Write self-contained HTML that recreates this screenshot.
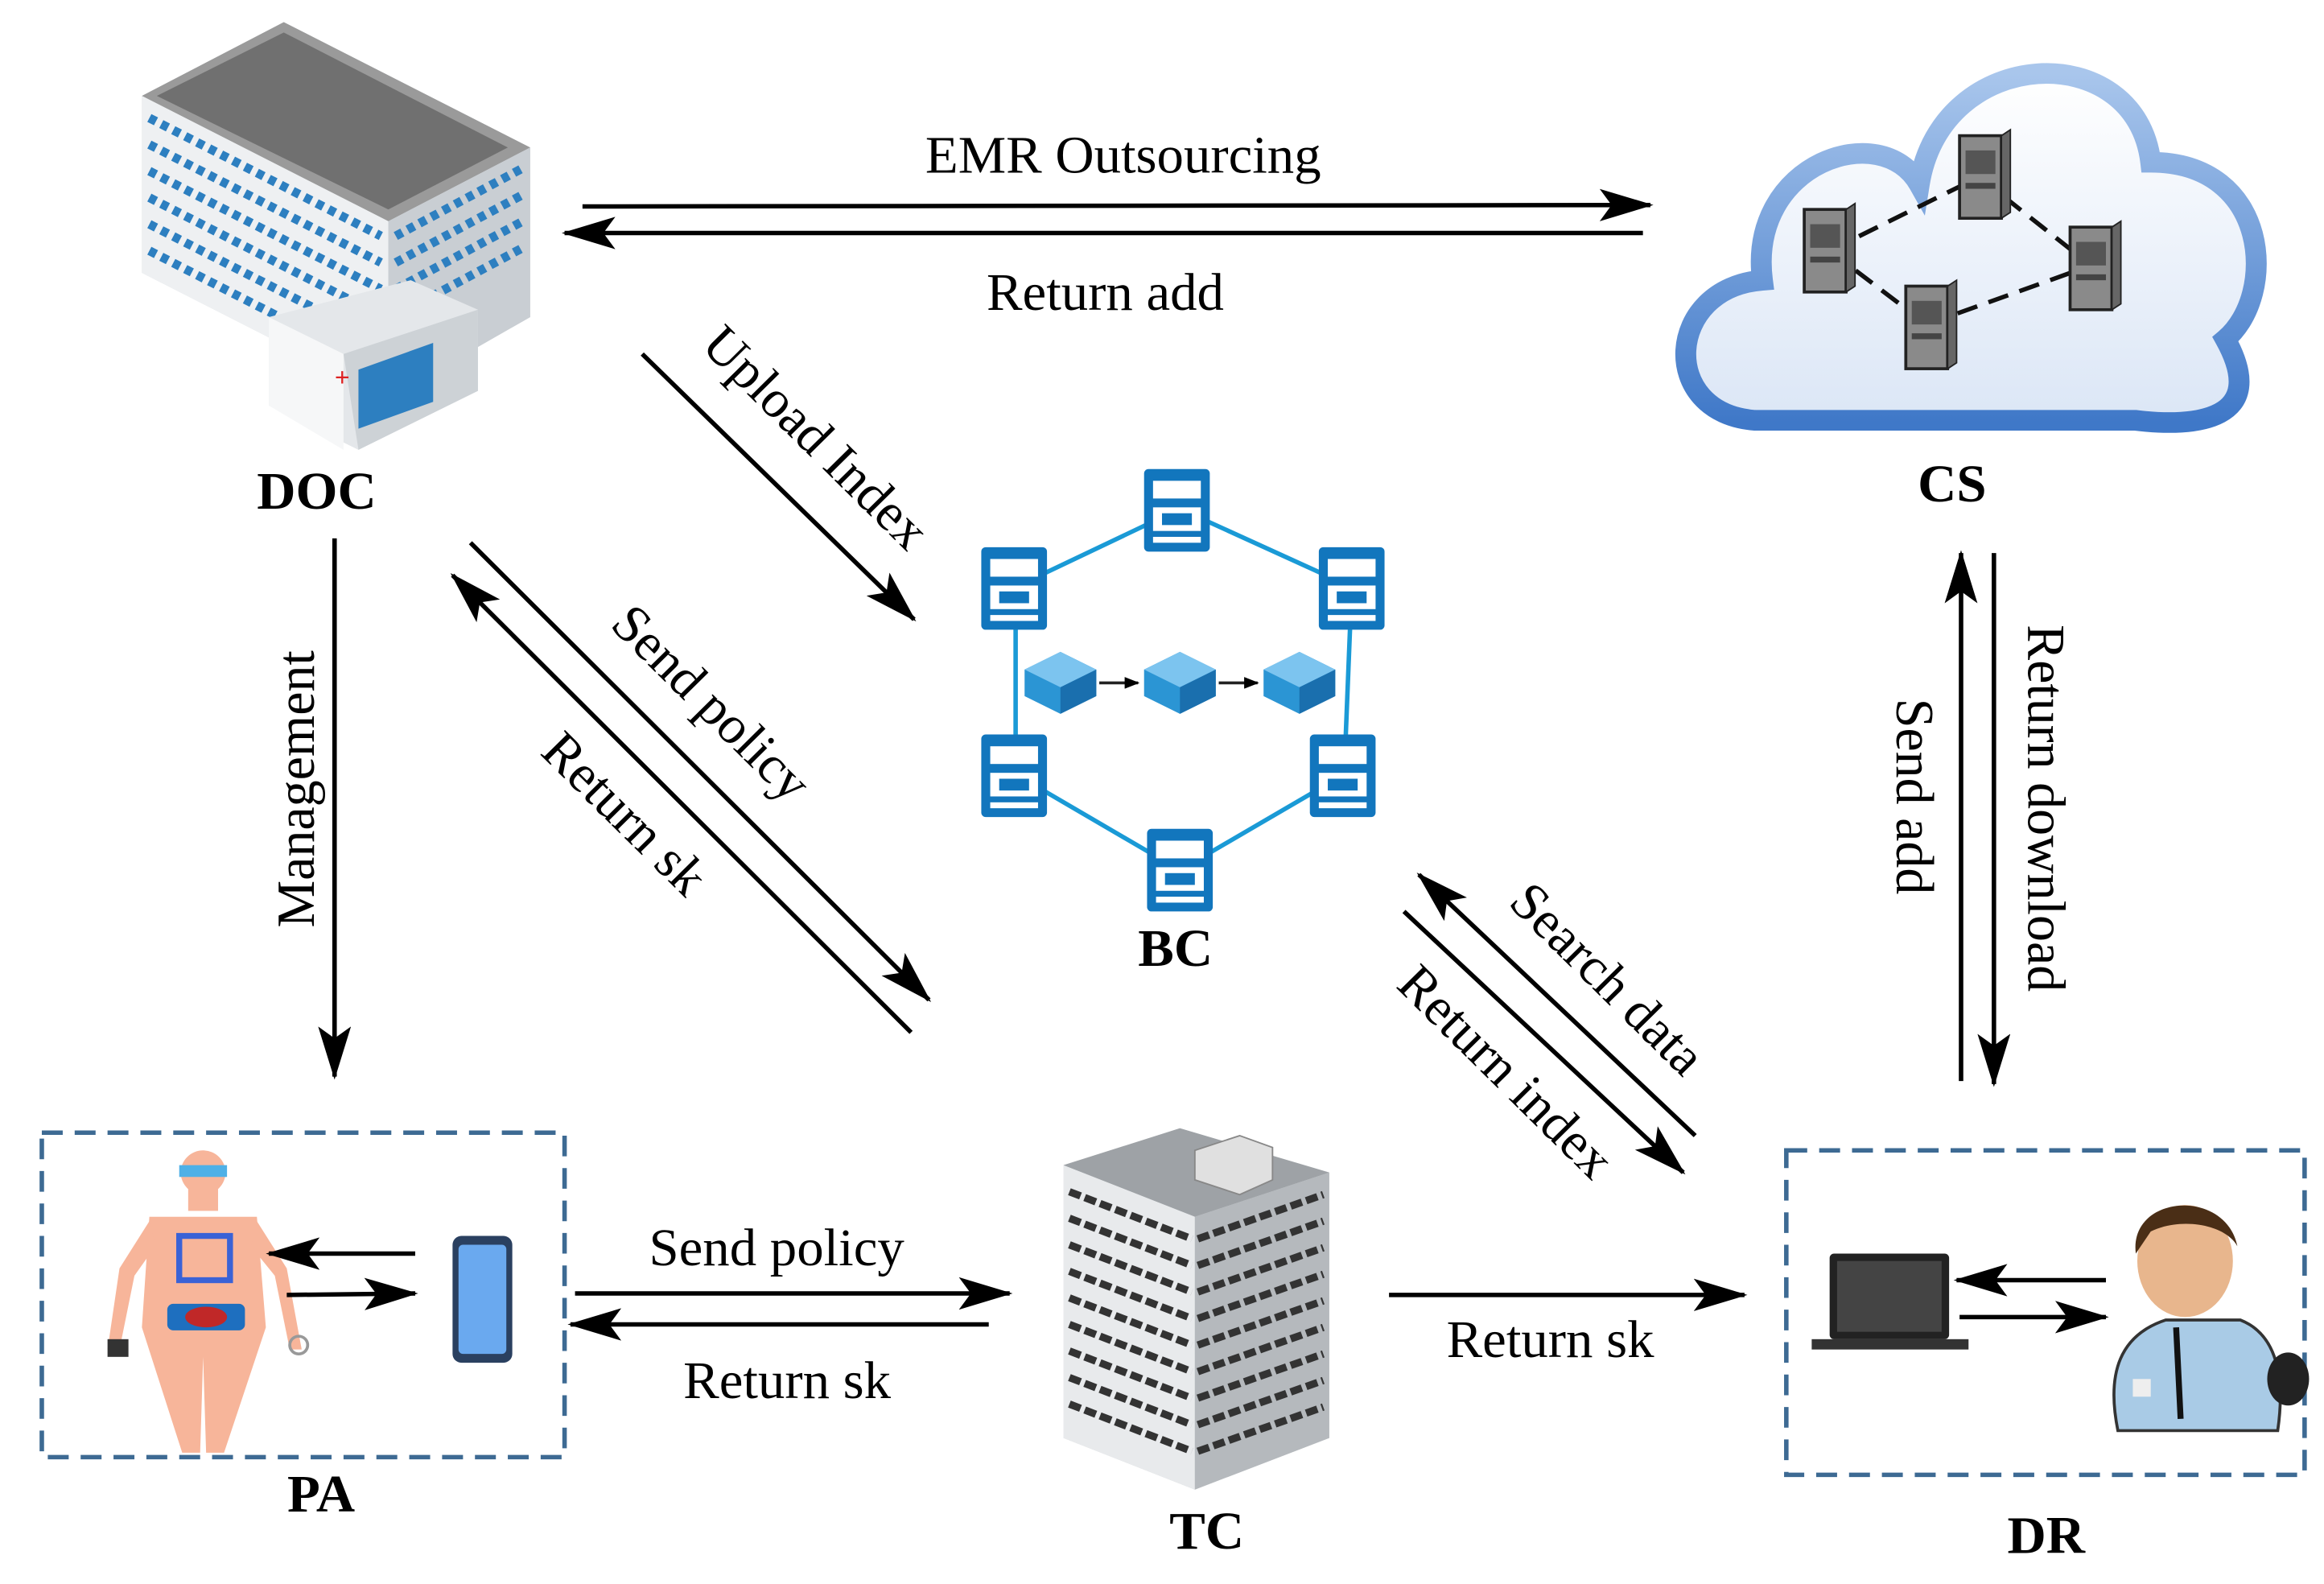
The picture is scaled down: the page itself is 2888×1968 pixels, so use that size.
<!DOCTYPE html>
<html><head><meta charset="utf-8"><style>html,body{margin:0;padding:0;background:#fff}svg{display:block}</style></head>
<body>
<svg width="2888" height="1968" viewBox="0 0 1556 1074" preserveAspectRatio="none" xmlns="http://www.w3.org/2000/svg" font-family="Liberation Serif, serif">
<defs>
<marker id="ah" markerWidth="10" markerHeight="8" refX="9" refY="4" orient="auto" markerUnits="userSpaceOnUse" viewBox="0 0 10 8"><path d="M0,0 L10,4 L0,8 z" fill="#000"/></marker>
<marker id="a" markerWidth="36" markerHeight="22" refX="34" refY="11" orient="auto" markerUnits="userSpaceOnUse"><path d="M0,0 L36,11 L0,22 L8,11 z" fill="#000"/></marker>
<linearGradient id="cl" x1="0" y1="0" x2="0" y2="1"><stop offset="0" stop-color="#fff"/><stop offset="1" stop-color="#dbe6f6"/></linearGradient>
<linearGradient id="cb" x1="0" y1="0" x2="0" y2="1"><stop offset="0" stop-color="#a9c6ec"/><stop offset="1" stop-color="#3f78c8"/></linearGradient>
<g id="srv"><rect x="-14" y="-28" width="28" height="56" fill="#8a8a8a" stroke="#222" stroke-width="2"/><rect x="-10" y="-18" width="20" height="16" fill="#555"/><rect x="-10" y="4" width="20" height="4" fill="#444"/><polygon points="14,-28 20,-32 20,24 14,28" fill="#666" stroke="#222"/></g>
<g id="bn"><rect x="-22" y="-28" width="44" height="56" rx="3" fill="#1276bd"/><rect x="-16" y="-20" width="32" height="12" fill="#fff"/><rect x="-16" y="-2" width="32" height="16" fill="#fff"/><rect x="-10" y="2" width="20" height="8" fill="#1276bd"/><rect x="-16" y="18" width="32" height="4" fill="#fff"/></g>
<g id="cube"><polygon points="0,-20 24,-8 24,10 0,22 -24,10 -24,-8" fill="#2b95d4"/><polygon points="0,-20 24,-8 0,4 -24,-8" fill="#7cc4ef"/><polygon points="0,4 24,-8 24,10 0,22" fill="#1a6fae"/></g>
</defs>

<!-- DOC building -->
<g>
<polygon points="95,65 190,15 355,100 355,215 260,270 95,185" fill="#d8dce0"/>
<polygon points="95,65 190,15 355,100 260,150" fill="#9a9a9a"/>
<polygon points="105,65 190,22 340,100 260,142" fill="#707070"/>
<polygon points="95,65 260,150 260,270 95,185" fill="#eef0f2"/>
<polygon points="260,150 355,100 355,215 260,270" fill="#c9ced3"/>
<g stroke="#2d7fc0" stroke-width="6" stroke-dasharray="5,4">
<line x1="100" y1="80" x2="255" y2="160"/><line x1="100" y1="98" x2="255" y2="178"/><line x1="100" y1="116" x2="255" y2="196"/><line x1="100" y1="134" x2="255" y2="214"/><line x1="100" y1="152" x2="255" y2="232"/><line x1="100" y1="170" x2="255" y2="250"/>
<line x1="265" y1="160" x2="350" y2="114"/><line x1="265" y1="178" x2="350" y2="132"/><line x1="265" y1="196" x2="350" y2="150"/><line x1="265" y1="214" x2="350" y2="168"/>
</g>
<polygon points="180,215 275,190 320,210 320,265 240,305 180,275" fill="#e4e7ea"/>
<polygon points="180,215 230,240 230,305 180,275" fill="#f6f7f8"/>
<polygon points="230,240 320,210 320,265 240,305" fill="#cdd2d6"/>
<rect x="240" y="248" width="50" height="40" fill="#2d7fc0" transform="skewY(-20) translate(0,90)"/>
<text x="224" y="262" fill="#d22" font-size="18" font-weight="bold">+</text>
</g>
<text x="212" y="345" font-size="36" font-weight="bold" text-anchor="middle">DOC</text>

<!-- EMR arrows -->
<line x1="390" y1="140" x2="1105" y2="139" stroke="#000" stroke-width="3" marker-end="url(#a)"/>
<line x1="1100" y1="158" x2="378" y2="158" stroke="#000" stroke-width="3" marker-end="url(#a)"/>
<text x="752" y="117" font-size="36" text-anchor="middle">EMR Outsourcing</text>
<text x="740" y="210" font-size="36" text-anchor="middle">Return add</text>

<!-- Cloud -->
<path d="M1175,285 C1110,280 1115,195 1180,190 C1170,110 1260,80 1285,125 C1300,30 1430,25 1440,110 C1520,110 1525,200 1490,230 C1520,285 1470,290 1430,285 Z" fill="url(#cl)" stroke="url(#cb)" stroke-width="14"/>
<g stroke="#111" stroke-width="3" stroke-dasharray="14,8">
<line x1="1225" y1="170" x2="1325" y2="120"/><line x1="1325" y1="120" x2="1400" y2="180"/><line x1="1225" y1="170" x2="1290" y2="220"/><line x1="1290" y1="220" x2="1400" y2="180"/>
</g>
<use href="#srv" x="1222" y="170"/><use href="#srv" x="1326" y="120"/><use href="#srv" x="1400" y="182"/><use href="#srv" x="1290" y="222"/>
<text x="1307" y="340" font-size="36" font-weight="bold" text-anchor="middle">CS</text>

<!-- Upload index -->
<line x1="430" y1="240" x2="612" y2="420" stroke="#000" stroke-width="3" marker-end="url(#a)"/>
<text transform="translate(538,305) rotate(45)" font-size="36" text-anchor="middle">Upload Index</text>

<!-- BC -->
<g stroke="#1a9ad6" stroke-width="3" fill="none">
<line x1="790" y1="345" x2="905" y2="398"/><line x1="790" y1="345" x2="680" y2="398"/><line x1="680" y1="398" x2="680" y2="525"/><line x1="905" y1="398" x2="900" y2="525"/><line x1="680" y1="525" x2="790" y2="590"/><line x1="900" y1="525" x2="790" y2="590"/>
</g>
<use href="#bn" x="788" y="346"/><use href="#bn" x="905" y="399"/><use href="#bn" x="679" y="399"/><use href="#bn" x="679" y="526"/><use href="#bn" x="899" y="526"/><use href="#bn" x="790" y="590"/>
<use href="#cube" x="710" y="462"/><use href="#cube" x="790" y="462"/><use href="#cube" x="870" y="462"/>
<line x1="736" y1="463" x2="762" y2="463" stroke="#222" stroke-width="2" marker-end="url(#ah)"/>
<line x1="816" y1="463" x2="842" y2="463" stroke="#222" stroke-width="2" marker-end="url(#ah)"/>
<text x="787" y="655" font-size="36" font-weight="bold" text-anchor="middle">BC</text>

<!-- Management -->
<line x1="224" y1="365" x2="224" y2="730" stroke="#000" stroke-width="3" marker-end="url(#a)"/>
<text transform="translate(210,535) rotate(-90)" font-size="36" text-anchor="middle">Management</text>

<!-- Send policy / return sk diagonal -->
<line x1="315" y1="368" x2="622" y2="678" stroke="#000" stroke-width="3" marker-end="url(#a)"/>
<line x1="610" y1="700" x2="303" y2="390" stroke="#000" stroke-width="3" marker-end="url(#a)"/>
<text transform="translate(468,485) rotate(45)" font-size="36" text-anchor="middle">Send policy</text>
<text transform="translate(410,560) rotate(45)" font-size="36" text-anchor="middle">Return sk</text>

<!-- Search data / Return index -->
<line x1="1135" y1="770" x2="950" y2="593" stroke="#000" stroke-width="3" marker-end="url(#a)"/>
<line x1="940" y1="618" x2="1127" y2="795" stroke="#000" stroke-width="3" marker-end="url(#a)"/>
<text transform="translate(1068,672) rotate(45)" font-size="36" text-anchor="middle">Search data</text>
<text transform="translate(1000,735) rotate(45)" font-size="36" text-anchor="middle">Return index</text>

<!-- CS vertical -->
<line x1="1313" y1="733" x2="1313" y2="375" stroke="#000" stroke-width="3" marker-end="url(#a)"/>
<line x1="1335" y1="375" x2="1335" y2="735" stroke="#000" stroke-width="3" marker-end="url(#a)"/>
<text transform="translate(1270,540) rotate(90)" font-size="36" text-anchor="middle">Send add</text>
<text transform="translate(1358,548) rotate(90)" font-size="36" text-anchor="middle">Return download</text>

<!-- PA box -->
<rect x="28" y="768" width="350" height="220" fill="none" stroke="#3d6a93" stroke-width="3" stroke-dasharray="14,8"/>
<g fill="#f7b59a">
<circle cx="136" cy="795" r="15"/>
<rect x="126" y="805" width="20" height="16"/>
<path d="M100,825 L172,825 L178,900 L150,985 L138,985 L136,920 L134,985 L122,985 L95,900 Z"/>
<path d="M100,828 L80,860 L72,915 L80,915 L90,865 L104,845 Z"/>
<path d="M172,828 L192,860 L202,915 L194,915 L184,865 L168,845 Z"/>
</g>
<rect x="120" y="790" width="32" height="8" fill="#4fb0e6"/>
<rect x="120" y="838" width="34" height="30" fill="none" stroke="#3a62d6" stroke-width="4"/>
<rect x="112" y="884" width="52" height="18" rx="4" fill="#1e6fbf"/><ellipse cx="138" cy="893" rx="14" ry="7" fill="#c02828"/>
<rect x="72" y="908" width="14" height="12" fill="#333"/><circle cx="200" cy="912" r="6" fill="none" stroke="#999" stroke-width="2"/>
<rect x="303" y="838" width="40" height="86" rx="6" fill="#2a4060"/><rect x="307" y="844" width="32" height="74" rx="3" fill="#6aa9ef"/>
<line x1="278" y1="850" x2="180" y2="850" stroke="#000" stroke-width="3" marker-end="url(#a)"/>
<line x1="192" y1="878" x2="278" y2="877" stroke="#000" stroke-width="3" marker-end="url(#a)"/>
<text x="215" y="1025" font-size="36" font-weight="bold" text-anchor="middle">PA</text>

<!-- PA - TC -->
<line x1="385" y1="877" x2="676" y2="877" stroke="#000" stroke-width="3" marker-end="url(#a)"/>
<line x1="662" y1="898" x2="382" y2="898" stroke="#000" stroke-width="3" marker-end="url(#a)"/>
<text x="520" y="858" font-size="36" text-anchor="middle">Send policy</text>
<text x="527" y="948" font-size="36" text-anchor="middle">Return sk</text>

<!-- TC building -->
<polygon points="712,790 790,765 890,795 890,975 800,1010 712,975" fill="#cfd2d5"/>
<polygon points="712,790 790,765 890,795 800,825" fill="#9ea2a6"/>
<polygon points="712,790 800,825 800,1010 712,975" fill="#e8eaec"/>
<polygon points="800,825 890,795 890,975 800,1010" fill="#b5b9bd"/>
<g stroke="#333" stroke-width="5" stroke-dasharray="8,3">
<line x1="716" y1="808" x2="798" y2="840"/><line x1="716" y1="826" x2="798" y2="858"/><line x1="716" y1="844" x2="798" y2="876"/><line x1="716" y1="862" x2="798" y2="894"/><line x1="716" y1="880" x2="798" y2="912"/><line x1="716" y1="898" x2="798" y2="930"/><line x1="716" y1="916" x2="798" y2="948"/><line x1="716" y1="934" x2="798" y2="966"/><line x1="716" y1="952" x2="798" y2="984"/>
<line x1="802" y1="840" x2="886" y2="810"/><line x1="802" y1="858" x2="886" y2="828"/><line x1="802" y1="876" x2="886" y2="846"/><line x1="802" y1="894" x2="886" y2="864"/><line x1="802" y1="912" x2="886" y2="882"/><line x1="802" y1="930" x2="886" y2="900"/><line x1="802" y1="948" x2="886" y2="918"/><line x1="802" y1="966" x2="886" y2="936"/><line x1="802" y1="984" x2="886" y2="954"/>
</g>
<polygon points="800,780 830,770 852,778 852,800 830,810 800,800" fill="#e0e0e0" stroke="#888"/>
<text x="808" y="1050" font-size="36" font-weight="bold" text-anchor="middle">TC</text>

<!-- TC - DR -->
<line x1="930" y1="878" x2="1168" y2="878" stroke="#000" stroke-width="3" marker-end="url(#a)"/>
<text x="1038" y="920" font-size="36" text-anchor="middle">Return sk</text>

<!-- DR box -->
<rect x="1196" y="780" width="347" height="220" fill="none" stroke="#3d6a93" stroke-width="3" stroke-dasharray="14,8"/>
<rect x="1225" y="850" width="80" height="58" rx="3" fill="#222"/><rect x="1230" y="855" width="70" height="48" fill="#444"/>
<rect x="1213" y="908" width="105" height="7" fill="#333"/>
<line x1="1410" y1="868" x2="1310" y2="868" stroke="#000" stroke-width="3" marker-end="url(#a)"/>
<line x1="1312" y1="893" x2="1410" y2="893" stroke="#000" stroke-width="3" marker-end="url(#a)"/>
<path d="M1418,970 C1410,930 1420,905 1450,895 L1500,895 C1525,905 1530,935 1525,970 Z" fill="#a9cbe6" stroke="#333" stroke-width="2"/>
<ellipse cx="1532" cy="935" rx="14" ry="18" fill="#222"/>
<ellipse cx="1463" cy="855" rx="32" ry="38" fill="#e8b68d"/>
<path d="M1430,850 C1425,810 1490,805 1498,845 C1490,830 1460,825 1440,835 Z" fill="#4a2e16"/>
<line x1="1457" y1="900" x2="1460" y2="962" stroke="#111" stroke-width="4"/>
<rect x="1428" y="935" width="12" height="12" fill="#eee"/>
<text x="1370" y="1053" font-size="36" font-weight="bold" text-anchor="middle">DR</text>
</svg>
</body></html>
